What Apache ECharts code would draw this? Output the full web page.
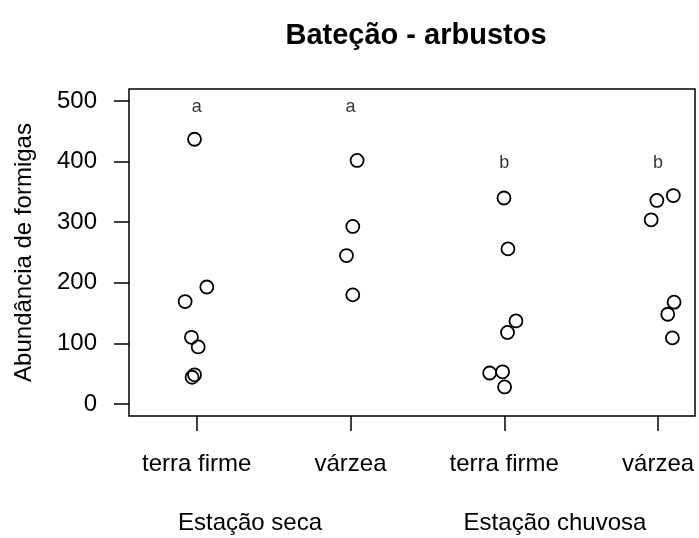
<!DOCTYPE html>
<html>
<head>
<meta charset="utf-8">
<script src="https://cdn.jsdelivr.net/npm/echarts@6/dist/echarts.min.js"></script>
<style>html,body{margin:0;padding:0;background:#fff}#c{width:699px;height:538px}</style>
</head>
<body>
<div id="c"></div>
<script>
// Category labels (x axis) and y tick labels
var categories = ['terra firme', 'várzea', 'terra firme', 'várzea'];
var yTicks = [0, 100, 200, 300, 400, 500];
var seasons = ['Estação seca', 'Estação chuvosa'];

// Abundance values per group
var secaTerraFirme = [437, 193, 169, 110, 94, 48, 44];
var secaVarzea = [402, 293, 245, 180];
var chuvosaTerraFirme = [340, 256, 137, 118, 51, 53, 28];
var chuvosaVarzea = [344, 336, 304, 168, 148, 109];

// Horizontal jitter (category units)
var jitterSecaTF = [-0.014, 0.066, -0.075, -0.034, 0.010, -0.014, -0.030];
var jitterSecaV = [0.043, 0.015, -0.026, 0.015];
var jitterChuvTF = [-0.002, 0.024, 0.076, 0.021, -0.095, -0.011, 0.002];
var jitterChuvV = [0.099, -0.008, -0.045, 0.104, 0.063, 0.093];

// Significance letters
var letters = ['a', 'a', 'b', 'b'];
var letterY = [490, 490, 397, 397];

var groups = [
  [secaTerraFirme, jitterSecaTF],
  [secaVarzea, jitterSecaV],
  [chuvosaTerraFirme, jitterChuvTF],
  [chuvosaVarzea, jitterChuvV]
];
var points = [];
groups.forEach(function (g, gi) {
  g[0].forEach(function (v, i) { points.push([gi + 1 + g[1][i], v]); });
});
var letterData = letters.map(function (l, i) { return { value: [i + 1, letterY[i]], name: l }; });

var FONT = "'Liberation Sans', Arial, Helvetica, sans-serif";
var chart = echarts.init(document.getElementById('c'), null, { renderer: 'canvas' });
chart.setOption({
  animation: false,
  backgroundColor: '#ffffff',
  title: {
    text: 'Bateção - arbustos',
    left: 411, top: 16, textAlign: 'center',
    textStyle: { fontFamily: FONT, fontWeight: 'bold', fontSize: 29, color: '#000' }
  },
  grid: { left: 129, top: 89, width: 566, height: 327, show: true, borderColor: '#000', borderWidth: 1.5, backgroundColor: 'transparent' },
  xAxis: {
    type: 'value', min: 0.56, max: 4.24,
    splitLine: { show: false },
    axisLine: { show: false, onZero: false },
    axisTick: { show: true, customValues: [1, 2, 3, 4], length: 15, inside: false, lineStyle: { color: '#000', width: 1.5 } },
    axisLabel: {
      customValues: [1, 2, 3, 4], margin: 36,
      formatter: function (v) { return categories[Math.round(v) - 1]; },
      fontFamily: FONT, fontSize: 24, color: '#000'
    }
  },
  yAxis: {
    type: 'value', min: -20, max: 520,
    name: 'Abundância de formigas', nameLocation: 'middle', nameRotate: 90, nameGap: 93,
    nameTextStyle: { fontFamily: FONT, fontSize: 24, color: '#000' },
    splitLine: { show: false },
    axisLine: { show: false, onZero: false },
    axisTick: { show: true, customValues: yTicks, length: 15, lineStyle: { color: '#000', width: 1.5 } },
    axisLabel: { customValues: yTicks, margin: 32, fontFamily: FONT, fontSize: 24, color: '#000' }
  },
  series: [
    {
      type: 'scatter', data: points, symbol: 'circle', symbolSize: 13,
      itemStyle: { color: 'rgba(255,255,255,0)', borderColor: '#000', borderWidth: 1.8, opacity: 1 }
    },
    {
      type: 'scatter', data: letterData, symbolSize: 0,
      label: { show: true, position: 'inside', formatter: function (p) { return p.name; }, fontFamily: FONT, fontSize: 18, color: '#000' }
    }
  ],
  graphic: [
    { type: 'text', x: 250, y: 523, style: { text: seasons[0], font: '24px ' + FONT, fill: '#000', align: 'center', verticalAlign: 'middle' } },
    { type: 'text', x: 555, y: 523, style: { text: seasons[1], font: '24px ' + FONT, fill: '#000', align: 'center', verticalAlign: 'middle' } }
  ]
});
</script>
</body>
</html>
